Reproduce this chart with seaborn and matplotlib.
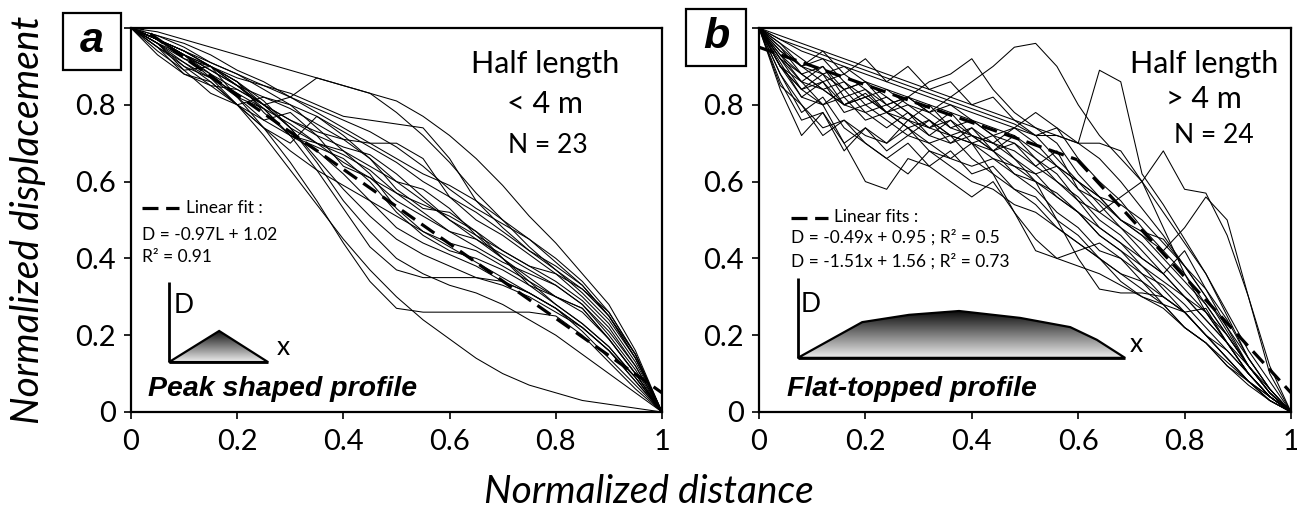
import numpy as np
import pandas as pd
import matplotlib
matplotlib.use("Agg")
import matplotlib.pyplot as plt
import seaborn as sns
from matplotlib.patches import Polygon, Rectangle

# ---------------- data : panel a (half length < 4 m) ----------------
x_a = [0.00, 0.05, 0.10, 0.15, 0.20, 0.25, 0.30, 0.35, 0.40, 0.45, 0.50,
       0.55, 0.60, 0.65, 0.70, 0.75, 0.80, 0.85, 0.90, 0.95, 1.00]
a01 = [1.00, 0.99, 0.97, 0.95, 0.93, 0.91, 0.89, 0.87, 0.85, 0.83, 0.81, 0.77, 0.72, 0.66, 0.59, 0.51, 0.44, 0.36, 0.28, 0.16, 0.00]
a02 = [1.00, 0.97, 0.93, 0.90, 0.86, 0.80, 0.82, 0.87, 0.85, 0.83, 0.78, 0.72, 0.65, 0.57, 0.50, 0.43, 0.37, 0.31, 0.24, 0.14, 0.00]
a03 = [1.00, 0.97, 0.93, 0.90, 0.87, 0.85, 0.83, 0.80, 0.77, 0.76, 0.75, 0.74, 0.66, 0.55, 0.48, 0.42, 0.37, 0.32, 0.25, 0.15, 0.00]
a04 = [1.00, 0.97, 0.93, 0.87, 0.80, 0.72, 0.63, 0.54, 0.45, 0.37, 0.30, 0.24, 0.19, 0.14, 0.10, 0.07, 0.05, 0.03, 0.02, 0.01, 0.00]
a05 = [1.00, 0.97, 0.93, 0.88, 0.82, 0.74, 0.65, 0.55, 0.44, 0.34, 0.27, 0.26, 0.26, 0.26, 0.26, 0.26, 0.25, 0.20, 0.13, 0.06, 0.00]
a06 = [1.00, 0.97, 0.94, 0.90, 0.85, 0.79, 0.72, 0.63, 0.53, 0.43, 0.37, 0.35, 0.35, 0.35, 0.34, 0.31, 0.27, 0.21, 0.14, 0.07, 0.00]
a07 = [1.00, 0.97, 0.94, 0.90, 0.86, 0.81, 0.74, 0.65, 0.55, 0.47, 0.40, 0.36, 0.33, 0.31, 0.28, 0.24, 0.20, 0.15, 0.10, 0.05, 0.00]
a08 = [1.00, 0.96, 0.93, 0.89, 0.85, 0.80, 0.76, 0.72, 0.69, 0.67, 0.62, 0.56, 0.50, 0.45, 0.41, 0.37, 0.33, 0.28, 0.21, 0.12, 0.00]
a09 = [1.00, 0.96, 0.92, 0.88, 0.84, 0.80, 0.76, 0.73, 0.71, 0.70, 0.70, 0.66, 0.56, 0.50, 0.46, 0.41, 0.36, 0.30, 0.23, 0.13, 0.00]
a10 = [1.00, 0.95, 0.88, 0.85, 0.84, 0.80, 0.74, 0.70, 0.67, 0.63, 0.57, 0.52, 0.47, 0.43, 0.39, 0.36, 0.33, 0.28, 0.20, 0.11, 0.00]
a11 = [1.00, 0.97, 0.92, 0.90, 0.86, 0.78, 0.72, 0.69, 0.66, 0.60, 0.52, 0.46, 0.42, 0.40, 0.37, 0.33, 0.28, 0.23, 0.17, 0.09, 0.00]
a12 = [1.00, 0.94, 0.89, 0.90, 0.82, 0.76, 0.78, 0.72, 0.64, 0.61, 0.55, 0.51, 0.47, 0.45, 0.40, 0.33, 0.30, 0.27, 0.19, 0.10, 0.00]
a13 = [1.00, 0.98, 0.95, 0.91, 0.88, 0.84, 0.80, 0.77, 0.73, 0.69, 0.65, 0.60, 0.56, 0.52, 0.47, 0.42, 0.38, 0.33, 0.25, 0.14, 0.00]
a14 = [1.00, 0.95, 0.90, 0.85, 0.80, 0.76, 0.72, 0.68, 0.62, 0.55, 0.48, 0.44, 0.41, 0.38, 0.34, 0.31, 0.27, 0.22, 0.16, 0.08, 0.00]
a15 = [1.00, 0.97, 0.93, 0.89, 0.85, 0.82, 0.79, 0.75, 0.71, 0.66, 0.60, 0.55, 0.50, 0.46, 0.42, 0.38, 0.34, 0.29, 0.22, 0.12, 0.00]
a16 = [1.00, 0.93, 0.88, 0.86, 0.80, 0.74, 0.70, 0.77, 0.72, 0.66, 0.58, 0.53, 0.52, 0.47, 0.40, 0.35, 0.30, 0.27, 0.19, 0.10, 0.00]
a17 = [1.00, 0.96, 0.90, 0.87, 0.82, 0.79, 0.75, 0.70, 0.65, 0.61, 0.57, 0.54, 0.51, 0.47, 0.42, 0.38, 0.36, 0.32, 0.26, 0.15, 0.00]
a18 = [1.00, 0.97, 0.94, 0.90, 0.85, 0.80, 0.74, 0.66, 0.58, 0.51, 0.45, 0.41, 0.38, 0.35, 0.33, 0.30, 0.26, 0.22, 0.16, 0.08, 0.00]
a19 = [1.00, 0.98, 0.96, 0.93, 0.89, 0.86, 0.82, 0.79, 0.76, 0.73, 0.69, 0.64, 0.58, 0.53, 0.49, 0.45, 0.40, 0.34, 0.26, 0.15, 0.00]
a20 = [1.00, 0.95, 0.91, 0.87, 0.83, 0.79, 0.72, 0.70, 0.68, 0.62, 0.53, 0.47, 0.44, 0.42, 0.38, 0.34, 0.28, 0.23, 0.17, 0.09, 0.00]
a21 = [1.00, 0.96, 0.89, 0.83, 0.80, 0.82, 0.80, 0.74, 0.68, 0.64, 0.60, 0.58, 0.53, 0.46, 0.40, 0.34, 0.30, 0.26, 0.19, 0.10, 0.00]
a22 = [1.00, 0.97, 0.94, 0.91, 0.88, 0.85, 0.82, 0.78, 0.74, 0.70, 0.66, 0.62, 0.59, 0.55, 0.50, 0.45, 0.39, 0.33, 0.25, 0.14, 0.00]
a23 = [1.00, 0.96, 0.91, 0.86, 0.80, 0.74, 0.68, 0.63, 0.59, 0.55, 0.51, 0.47, 0.43, 0.39, 0.35, 0.31, 0.27, 0.22, 0.16, 0.09, 0.00]

# ---------------- data : panel b (half length > 4 m) ----------------
x_b = [0.00, 0.04, 0.08, 0.12, 0.16, 0.20, 0.24, 0.28, 0.32, 0.36, 0.40, 0.44, 0.48,
       0.52, 0.56, 0.60, 0.64, 0.68, 0.72, 0.76, 0.80, 0.84, 0.88, 0.92, 0.96, 1.00]
b01 = [1.00, 0.90, 0.82, 0.80, 0.70, 0.60, 0.58, 0.66, 0.64, 0.60, 0.56, 0.60, 0.52, 0.45, 0.40, 0.38, 0.36, 0.33, 0.30, 0.27, 0.22, 0.18, 0.13, 0.08, 0.04, 0.00]
b02 = [1.00, 0.93, 0.88, 0.90, 0.84, 0.86, 0.80, 0.82, 0.78, 0.82, 0.86, 0.90, 0.95, 0.96, 0.90, 0.80, 0.72, 0.66, 0.60, 0.52, 0.44, 0.36, 0.26, 0.16, 0.08, 0.00]
b03 = [1.00, 0.92, 0.86, 0.84, 0.80, 0.78, 0.80, 0.76, 0.74, 0.78, 0.72, 0.70, 0.74, 0.78, 0.74, 0.70, 0.89, 0.86, 0.62, 0.54, 0.45, 0.36, 0.25, 0.14, 0.06, 0.00]
b04 = [1.00, 0.98, 0.96, 0.94, 0.92, 0.90, 0.88, 0.86, 0.84, 0.82, 0.80, 0.78, 0.76, 0.74, 0.72, 0.70, 0.66, 0.60, 0.53, 0.46, 0.38, 0.30, 0.21, 0.12, 0.05, 0.00]
b05 = [1.00, 0.86, 0.76, 0.78, 0.70, 0.74, 0.68, 0.72, 0.70, 0.66, 0.70, 0.68, 0.62, 0.58, 0.52, 0.48, 0.42, 0.40, 0.36, 0.30, 0.26, 0.20, 0.14, 0.08, 0.04, 0.00]
b06 = [1.00, 0.90, 0.84, 0.86, 0.80, 0.83, 0.78, 0.76, 0.80, 0.74, 0.72, 0.70, 0.68, 0.64, 0.60, 0.55, 0.52, 0.56, 0.60, 0.68, 0.58, 0.57, 0.46, 0.30, 0.12, 0.00]
b07 = [1.00, 0.94, 0.90, 0.88, 0.90, 0.86, 0.84, 0.82, 0.80, 0.78, 0.76, 0.74, 0.72, 0.68, 0.64, 0.60, 0.56, 0.50, 0.46, 0.42, 0.48, 0.56, 0.50, 0.30, 0.10, 0.00]
b08 = [1.00, 0.88, 0.80, 0.74, 0.76, 0.72, 0.70, 0.74, 0.68, 0.66, 0.64, 0.66, 0.62, 0.60, 0.57, 0.52, 0.46, 0.42, 0.36, 0.33, 0.28, 0.22, 0.16, 0.10, 0.04, 0.00]
b09 = [1.00, 0.92, 0.84, 0.88, 0.80, 0.82, 0.78, 0.80, 0.76, 0.72, 0.74, 0.70, 0.66, 0.60, 0.50, 0.40, 0.32, 0.31, 0.31, 0.30, 0.26, 0.20, 0.14, 0.08, 0.03, 0.00]
b10 = [1.00, 0.95, 0.88, 0.84, 0.86, 0.80, 0.82, 0.78, 0.74, 0.72, 0.70, 0.62, 0.52, 0.42, 0.40, 0.42, 0.44, 0.40, 0.34, 0.28, 0.22, 0.18, 0.12, 0.07, 0.03, 0.00]
b11 = [1.00, 0.97, 0.95, 0.93, 0.91, 0.89, 0.87, 0.85, 0.83, 0.81, 0.79, 0.77, 0.75, 0.72, 0.66, 0.60, 0.54, 0.48, 0.42, 0.36, 0.30, 0.24, 0.18, 0.12, 0.06, 0.00]
b12 = [1.00, 0.96, 0.90, 0.94, 0.88, 0.92, 0.86, 0.90, 0.84, 0.86, 0.80, 0.82, 0.76, 0.72, 0.74, 0.66, 0.60, 0.55, 0.48, 0.42, 0.36, 0.28, 0.20, 0.12, 0.05, 0.00]
b13 = [1.00, 0.90, 0.86, 0.80, 0.84, 0.78, 0.74, 0.78, 0.72, 0.76, 0.70, 0.72, 0.66, 0.62, 0.64, 0.58, 0.52, 0.48, 0.44, 0.38, 0.32, 0.26, 0.18, 0.10, 0.04, 0.00]
b14 = [1.00, 0.93, 0.86, 0.90, 0.82, 0.84, 0.78, 0.82, 0.86, 0.88, 0.92, 0.84, 0.78, 0.74, 0.70, 0.62, 0.56, 0.50, 0.46, 0.40, 0.34, 0.28, 0.20, 0.12, 0.05, 0.00]
b15 = [1.00, 0.85, 0.80, 0.72, 0.76, 0.70, 0.66, 0.70, 0.64, 0.68, 0.62, 0.64, 0.58, 0.54, 0.48, 0.44, 0.40, 0.36, 0.32, 0.28, 0.22, 0.18, 0.12, 0.08, 0.03, 0.00]
b16 = [1.00, 0.94, 0.90, 0.86, 0.88, 0.84, 0.80, 0.82, 0.78, 0.74, 0.76, 0.72, 0.70, 0.66, 0.60, 0.56, 0.50, 0.46, 0.40, 0.36, 0.30, 0.24, 0.18, 0.10, 0.04, 0.00]
b17 = [1.00, 0.91, 0.82, 0.86, 0.78, 0.80, 0.76, 0.72, 0.76, 0.70, 0.72, 0.68, 0.70, 0.64, 0.68, 0.58, 0.55, 0.50, 0.47, 0.45, 0.38, 0.32, 0.22, 0.12, 0.05, 0.00]
b18 = [1.00, 0.84, 0.72, 0.78, 0.68, 0.74, 0.70, 0.76, 0.72, 0.70, 0.74, 0.68, 0.72, 0.66, 0.62, 0.55, 0.48, 0.44, 0.38, 0.32, 0.26, 0.20, 0.14, 0.08, 0.03, 0.00]
b19 = [1.00, 0.92, 0.88, 0.84, 0.80, 0.82, 0.78, 0.74, 0.76, 0.72, 0.70, 0.66, 0.64, 0.60, 0.56, 0.52, 0.48, 0.44, 0.40, 0.36, 0.42, 0.32, 0.24, 0.14, 0.06, 0.00]
b20 = [1.00, 0.97, 0.94, 0.92, 0.90, 0.88, 0.86, 0.84, 0.82, 0.80, 0.78, 0.76, 0.74, 0.72, 0.72, 0.70, 0.70, 0.68, 0.60, 0.48, 0.36, 0.26, 0.18, 0.10, 0.04, 0.00]
b21 = [1.00, 0.95, 0.90, 0.92, 0.86, 0.82, 0.84, 0.80, 0.78, 0.80, 0.76, 0.72, 0.74, 0.70, 0.64, 0.60, 0.56, 0.54, 0.50, 0.44, 0.38, 0.30, 0.22, 0.14, 0.06, 0.00]
b22 = [1.00, 0.88, 0.78, 0.82, 0.74, 0.70, 0.66, 0.62, 0.68, 0.64, 0.60, 0.58, 0.54, 0.52, 0.48, 0.44, 0.40, 0.36, 0.34, 0.30, 0.26, 0.20, 0.16, 0.10, 0.04, 0.00]
b23 = [1.00, 0.96, 0.92, 0.88, 0.84, 0.86, 0.82, 0.78, 0.74, 0.76, 0.72, 0.68, 0.64, 0.62, 0.56, 0.52, 0.46, 0.42, 0.38, 0.34, 0.30, 0.26, 0.20, 0.12, 0.05, 0.00]
b24 = [1.00, 0.90, 0.84, 0.80, 0.82, 0.76, 0.78, 0.74, 0.70, 0.72, 0.66, 0.62, 0.58, 0.56, 0.50, 0.46, 0.40, 0.34, 0.30, 0.28, 0.26, 0.27, 0.18, 0.10, 0.04, 0.00]

# linear fits (from the annotations)
fit_a_slope, fit_a_intercept, fit_a_range = -0.97, 1.02, [0.0, 1.0]
fit_b1_slope, fit_b1_intercept, fit_b1_range = -0.49, 0.95, [0.0, 0.598]
fit_b2_slope, fit_b2_intercept, fit_b2_range = -1.51, 1.56, [0.598, 1.0]

ticks = [0, 0.2, 0.4, 0.6, 0.8, 1]
xtick_labels = ["0", "0.2", "0.4", "0.6", "0.8", "1"]
ytick_labels = ["0", "0.2", "0.4", "0.6", "0.8", ""]

profiles_a = [a01, a02, a03, a04, a05, a06, a07, a08, a09, a10, a11, a12,
              a13, a14, a15, a16, a17, a18, a19, a20, a21, a22, a23]
profiles_b = [b01, b02, b03, b04, b05, b06, b07, b08, b09, b10, b11, b12,
              b13, b14, b15, b16, b17, b18, b19, b20, b21, b22, b23, b24]


def long_frame(xs, profiles):
    rows = []
    for i, prof in enumerate(profiles):
        for xv, dv in zip(xs, prof):
            rows.append({"profile": i, "x": xv, "d": dv})
    return pd.DataFrame(rows)


df_a = long_frame(x_a, profiles_a)
df_b = long_frame(x_b, profiles_b)

# ---------------- style ----------------
sns.set_theme(style="white")
plt.rcParams["font.family"] = ["Lato", "DejaVu Sans"]
plt.rcParams["text.color"] = "black"
plt.rcParams["axes.labelcolor"] = "black"
plt.rcParams["xtick.color"] = "black"
plt.rcParams["ytick.color"] = "black"
BOLDIT = dict(family=["Liberation Sans", "DejaVu Sans"], weight="bold", style="italic")

W, H = 1297, 519
fig = plt.figure(figsize=(W / 100, H / 100), dpi=100)
ax_a = fig.add_axes([131 / W, 1 - 412 / H, 531 / W, 384 / H])
ax_b = fig.add_axes([759 / W, 1 - 412 / H, 532 / W, 384 / H])

DASH = (5, 2.4)


def fit_line(ax, slope, intercept, rng):
    xs = np.array(rng)
    ax.plot(xs, slope * xs + intercept, color="black", lw=2.3, dashes=DASH,
            zorder=5, solid_capstyle="butt", dash_capstyle="butt")


def gradient_shape(ax, verts, vline_top):
    poly = Polygon(verts, closed=True, facecolor="none", edgecolor="black",
                   lw=1.6, zorder=6)
    ax.add_patch(poly)
    xs = [v[0] for v in verts]
    ys = [v[1] for v in verts]
    grad = np.linspace(0.05, 0.93, 256).reshape(-1, 1)
    im = ax.imshow(grad, extent=[min(xs), max(xs), min(ys), max(ys)],
                   cmap="gray", vmin=0, vmax=1, aspect="auto",
                   origin="upper", zorder=5.5, interpolation="bilinear")
    im.set_clip_path(poly)
    x0, y0 = verts[0]
    ax.plot([x0, x0], [y0, vline_top], color="black", lw=2.0, zorder=7,
            solid_capstyle="butt")
    ax.plot([x0, max(xs)], [y0, y0], color="black", lw=2.0, zorder=7,
            solid_capstyle="butt")


for ax, df in [(ax_a, df_a), (ax_b, df_b)]:
    sns.lineplot(data=df, x="x", y="d", units="profile", estimator=None,
                 color="black", lw=0.75, ax=ax, legend=False, sort=False,
                 zorder=3)

fit_line(ax_a, fit_a_slope, fit_a_intercept, fit_a_range)
fit_line(ax_b, fit_b1_slope, fit_b1_intercept, fit_b1_range)
fit_line(ax_b, fit_b2_slope, fit_b2_intercept, fit_b2_range)

for ax in (ax_a, ax_b):
    ax.set_xlim(0, 1)
    ax.set_ylim(0, 1)
    ax.set_xticks(ticks)
    ax.set_xticklabels(xtick_labels)
    ax.set_yticks(ticks)
    ax.set_yticklabels(ytick_labels)
    ax.set_xlabel("")
    ax.set_ylabel("")
    ax.tick_params(axis="both", direction="out", length=5, width=1.2,
                   color="black", labelsize=21, labelcolor="black",
                   bottom=True, left=True, top=False, right=False)
    ax.tick_params(axis="x", pad=7)
    ax.tick_params(axis="y", pad=6)
    for s in ax.spines.values():
        s.set_visible(True)
        s.set_color("black")
        s.set_linewidth(1.6)

LEG = 12.5
# ---- panel a annotations ----
ax_a.text(0.779, 0.883, "Half length", ha="center", va="baseline", fontsize=22)
ax_a.text(0.779, 0.779, "< 4 m", ha="center", va="baseline", fontsize=22)
ax_a.text(0.785, 0.674, "N = 23", ha="center", va="baseline", fontsize=19)
ax_a.plot([0.021, 0.090], [0.531, 0.531], color="black", lw=2.3, dashes=DASH,
          solid_capstyle="butt", dash_capstyle="butt")
ax_a.text(0.104, 0.518, "Linear fit :", ha="left", va="baseline", fontsize=LEG)
ax_a.text(0.021, 0.448, "D = -0.97L + 1.02", ha="left", va="baseline", fontsize=LEG)
ax_a.text(0.021, 0.390, "R² = 0.91", ha="left", va="baseline", fontsize=LEG)
gradient_shape(ax_a, [(0.0717, 0.130), (0.166, 0.211), (0.258, 0.130)], 0.339)
ax_a.text(0.080, 0.258, "D", ha="left", va="baseline", fontsize=19, zorder=8)
ax_a.text(0.274, 0.148, "x", ha="left", va="baseline", fontsize=19, zorder=8)
ax_a.text(0.032, 0.042, "Peak shaped profile", ha="left", va="baseline",
          fontsize=20.5, zorder=8, **BOLDIT)

# ---- panel b annotations ----
ax_b.text(0.837, 0.883, "Half length", ha="center", va="baseline", fontsize=22)
ax_b.text(0.837, 0.792, "> 4 m", ha="center", va="baseline", fontsize=22)
ax_b.text(0.855, 0.700, "N = 24", ha="center", va="baseline", fontsize=19)
ax_b.plot([0.060, 0.130], [0.505, 0.505], color="black", lw=2.3, dashes=DASH,
          solid_capstyle="butt", dash_capstyle="butt")
ax_b.text(0.141, 0.495, "Linear fits :", ha="left", va="baseline", fontsize=LEG)
ax_b.text(0.060, 0.440, "D = -0.49x + 0.95 ; R² = 0.5", ha="left", va="baseline", fontsize=LEG)
ax_b.text(0.060, 0.378, "D = -1.51x + 1.56 ; R² = 0.73", ha="left", va="baseline", fontsize=LEG)
gradient_shape(ax_b, [(0.073, 0.141), (0.194, 0.234), (0.282, 0.253), (0.376, 0.263),
                      (0.491, 0.245), (0.585, 0.221), (0.635, 0.188), (0.688, 0.141)], 0.349)
ax_b.text(0.079, 0.260, "D", ha="left", va="baseline", fontsize=19, zorder=8)
ax_b.text(0.697, 0.156, "x", ha="left", va="baseline", fontsize=19, zorder=8)
ax_b.text(0.053, 0.042, "Flat-topped profile", ha="left", va="baseline",
          fontsize=20.5, zorder=8, **BOLDIT)

for ax in (ax_a, ax_b):
    ax.set_xlim(0, 1)
    ax.set_ylim(0, 1)

# ---- panel letters ----
for (x0, y0, w, h, letter) in [(63, 13, 58, 57, "a"), (686, 9, 60, 57, "b")]:
    fig.add_artist(Rectangle((x0 / W, 1 - (y0 + h) / H), w / W, h / H,
                             transform=fig.transFigure, facecolor="white",
                             edgecolor="black", lw=1.6))
    fig.text((x0 + w / 2) / W, 1 - (y0 + h / 2) / H, letter, ha="center",
             va="center", fontsize=31, **BOLDIT)

# ---- axis titles ----
fig.text(0.5, 1 - 492 / H, "Normalized distance", ha="center", va="center",
         fontsize=28, style="italic")
fig.text(28 / W, 1 - 220 / H, "Normalized displacement", ha="center",
         va="center", rotation=90, fontsize=28, style="italic")

fig.savefig("out.png", dpi=100)
